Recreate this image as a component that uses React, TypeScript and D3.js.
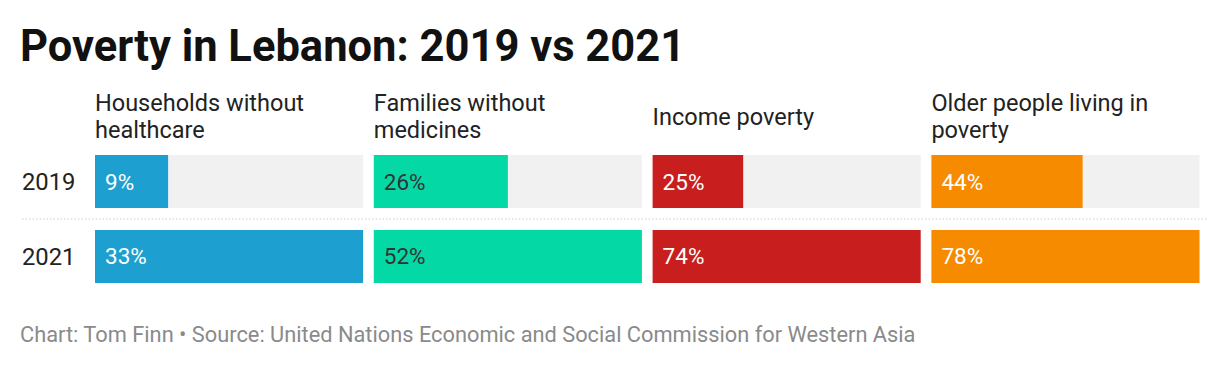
import React from "react";
import * as d3 from "d3";

const years = ["2019", "2021"];
const columns = [
  ["Households without", "healthcare"],
  ["Families without", "medicines"],
  ["Income poverty"],
  ["Older people living in", "poverty"],
];
const values2019 = [9, 26, 25, 44];
const values2021 = [33, 52, 74, 78];
const colors = ["#1d9fcf", "#04d9a5", "#c81e1e", "#f78b00"];
const labelColors = ["#ffffff", "#333333", "#ffffff", "#ffffff"];

const W = 1230;
const H = 369;
const FONT = "Roboto, sans-serif";

export default function App() {
  const colX = d3.scaleBand<number>().domain(d3.range(columns.length)).range([95, 1199.5]).paddingInner(0.0385);
  const rowY = d3.scaleBand<string>().domain(years).range([155, 283]).paddingInner(0.293);
  const rows = [values2019, values2021];
  return (
    <svg width={W} height={H} style={{ position: "absolute", left: 0, top: 0, background: "#fff" }} fontFamily={FONT}>
      <text x={20} y={61} fontSize={43.5} fontWeight={700} fill="#111">Poverty in Lebanon: 2019 vs 2021</text>
      {columns.map((lines, i) => (
        <text key={"h" + i} x={colX(i)!} fontSize={23.5} fill="#222">
          {lines.map((l, j) => (
            <tspan key={j} x={colX(i)!} y={lines.length === 1 ? 125 : 111 + j * 27}>{l}</tspan>
          ))}
        </text>
      ))}
      <line x1={22} x2={1208} y1={219} y2={219} stroke="#cccccc" strokeWidth={1} strokeDasharray="1.5,2" />
      {years.map((yr, r) => (
        <g key={yr}>
          <text x={22} y={rowY(yr)! + rowY.bandwidth() / 2 + 8.5} fontSize={23.8} fill="#222">{yr}</text>
          {columns.map((_, i) => {
            const max = Math.max(values2019[i], values2021[i]);
            const x = d3.scaleLinear().domain([0, max]).range([0, colX.bandwidth()]);
            const v = rows[r][i];
            return (
              <g key={i}>
                <rect x={colX(i)!} y={rowY(yr)!} width={colX.bandwidth()} height={rowY.bandwidth()} fill="#f1f1f1" />
                <rect x={colX(i)!} y={rowY(yr)!} width={x(v)} height={rowY.bandwidth()} fill={colors[i]} />
                <text x={colX(i)! + 10} y={rowY(yr)! + rowY.bandwidth() / 2 + 8} fontSize={22.5} fill={labelColors[i]}>{v + "%"}</text>
              </g>
            );
          })}
        </g>
      ))}
      <text x={20} y={342} fontSize={21.8} fill="#8a8a8a">Chart: Tom Finn • Source: United Nations Economic and Social Commission for Western Asia</text>
    </svg>
  );
}
